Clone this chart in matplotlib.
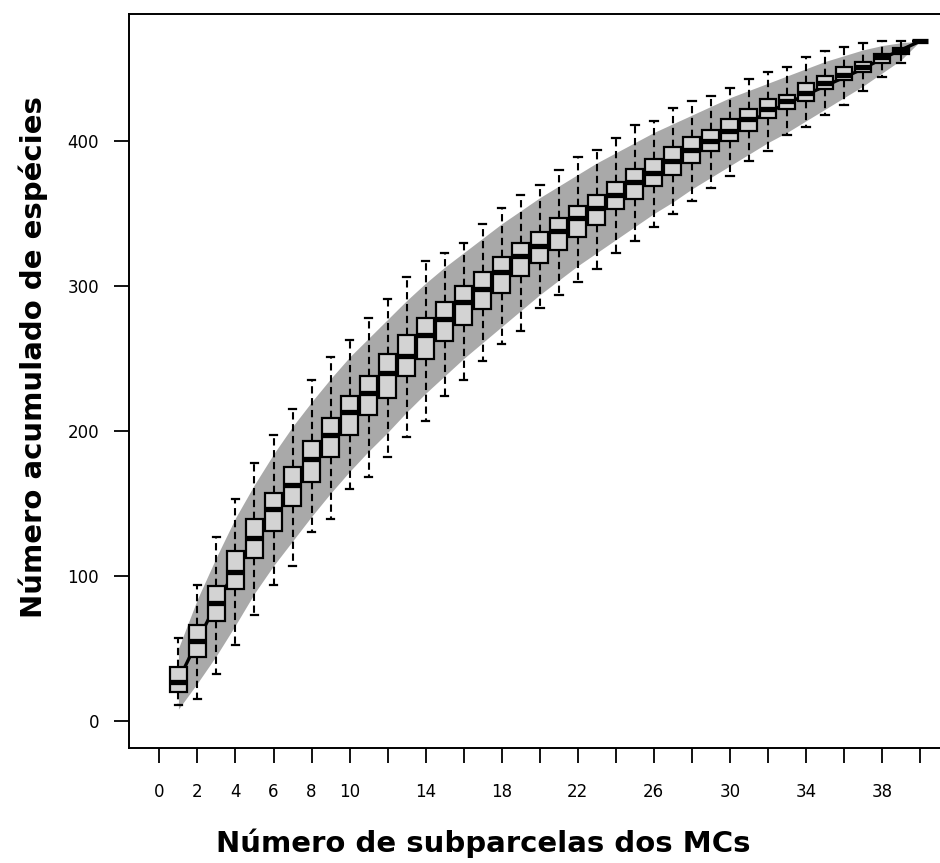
import matplotlib
matplotlib.use("Agg")
import matplotlib.pyplot as plt
import numpy as np

# number of subplots sampled
sites = list(range(1, 41))

# boxplot statistics of accumulated species over random permutations
whisker_low = [11, 15, 32, 52, 73, 94, 107, 130, 139, 160, 168, 182, 196, 207, 224, 235,
               248, 260, 269, 285, 294, 303, 312, 323, 331, 341, 350, 359, 368, 376, 386,
               393, 404, 410, 418, 425, 435, 444, 454, 469]
q1 = [20, 44, 69, 91, 112, 131, 148, 165, 182, 197, 211, 223, 238, 250, 262, 273, 284,
      295, 307, 316, 325, 334, 342, 353, 360, 369, 377, 385, 393, 400, 407, 416, 422,
      428, 436, 442, 448, 454, 460, 469]
median = [27, 55, 81, 103, 126, 146, 163, 181, 197, 213, 226, 240, 252, 266, 277, 289,
          298, 310, 321, 328, 338, 347, 354, 363, 372, 378, 386, 394, 400, 407, 415, 422,
          428, 433, 440, 446, 451, 458, 462, 469]
q3 = [37, 66, 93, 117, 139, 157, 175, 193, 209, 224, 238, 253, 266, 278, 289, 300, 310,
      320, 330, 337, 347, 355, 363, 372, 381, 388, 396, 403, 408, 415, 422, 429, 432,
      440, 445, 451, 455, 460, 464, 469]
whisker_high = [57, 94, 127, 153, 178, 197, 215, 235, 251, 263, 278, 291, 306, 317, 323,
                330, 343, 354, 363, 370, 380, 389, 394, 402, 411, 414, 423, 428, 431, 437,
                443, 448, 451, 458, 462, 465, 468, 469, 469, 469]

# mean accumulation curve and its +/- 2 sd envelope
mean_rich = [28, 55, 81, 104, 126, 145, 163, 180, 196, 212, 226, 239, 252, 264, 276, 287,
             297, 308, 318, 327, 337, 346, 354, 362, 370, 378, 385, 392, 399, 406, 413,
             420, 426, 432, 438, 444, 450, 457, 463, 469]
band_upper = [50, 84, 113, 140, 163, 184, 203, 220, 236, 251, 264, 277, 290, 302, 313,
              323, 333, 343, 352, 361, 369, 377, 385, 392, 399, 406, 412, 418, 424, 430,
              435, 440, 445, 450, 455, 459, 463, 466, 468, 469]
band_lower = [8, 26, 45, 66, 88, 107, 124, 141, 157, 172, 186, 199, 213, 226, 238, 250,
              261, 272, 283, 294, 304, 314, 323, 332, 341, 350, 358, 367, 375, 383, 391,
              399, 406, 414, 422, 430, 438, 447, 456, 469]

x_ticks = list(range(0, 41, 2))
x_tick_labels = ["0", "2", "4", "6", "8", "10", "", "14", "", "18", "", "22", "",
                 "26", "", "30", "", "34", "", "38", ""]
y_ticks = [0, 100, 200, 300, 400]

W, H = 940, 863
fig = plt.figure(figsize=(W / 100, H / 100), dpi=100)
left_px, right_px, top_px, bottom_px = 129, 950.4, 14, 748
ax = fig.add_axes([left_px / W, 1 - bottom_px / H,
                   (right_px - left_px) / W, (bottom_px - top_px) / H])

ax.fill_between(sites, band_lower, band_upper, color="#a9a9a9", lw=0, zorder=1)
ax.plot(sites, mean_rich, color="black", lw=2.4, zorder=2)

stats = []
for i in range(len(sites)):
    stats.append(dict(whislo=whisker_low[i], q1=q1[i], med=median[i],
                      q3=q3[i], whishi=whisker_high[i]))
ax.bxp(stats, positions=sites, widths=0.88, showfliers=False, patch_artist=True,
       boxprops=dict(facecolor="#d3d3d3", edgecolor="black", linewidth=1.6),
       medianprops=dict(color="black", linewidth=3.8, solid_capstyle="butt"),
       whiskerprops=dict(color="black", linewidth=1.5, linestyle=(0, (3.5, 2.2))),
       capprops=dict(color="black", linewidth=1.6),
       capwidths=0.4, manage_ticks=False, zorder=3)

ax.set_xlim(-1.6, 41.6)
ax.set_ylim(-18.8, 487.8)

ax.set_xticks(x_ticks)
ax.set_xticklabels(x_tick_labels)
ax.set_yticks(y_ticks)
ax.set_yticklabels([str(v) for v in y_ticks])
ax.tick_params(axis="both", length=10.5, width=1.3, labelsize=12, colors="black")
ax.tick_params(axis="x", pad=15)
ax.tick_params(axis="y", pad=11)
for s in ax.spines.values():
    s.set_linewidth(1.4)

fig.text(483 / W, 1 - 843 / H, "Número de subparcelas dos MCs", ha="center", va="center",
         fontsize=21, fontweight="bold", family="DejaVu Sans")
fig.text(33 / W, 1 - 357 / H, "Número acumulado de espécies", ha="center", va="center",
         rotation=90, fontsize=21, fontweight="bold", family="DejaVu Sans")

fig.savefig("out.png", dpi=100)
